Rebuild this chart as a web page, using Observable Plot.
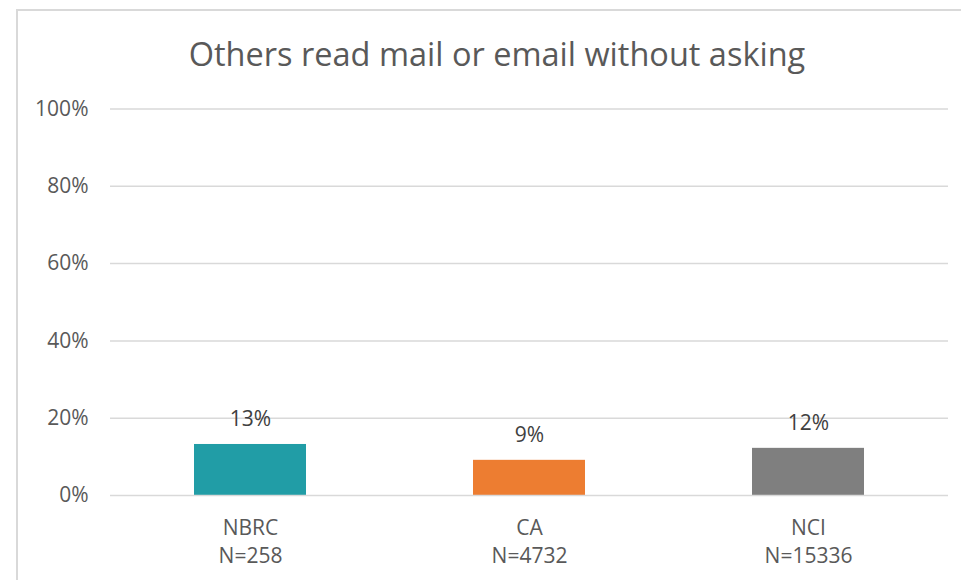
<!DOCTYPE html>
<html>
<head>
<meta charset="utf-8">
<script src="https://cdn.jsdelivr.net/npm/d3@7"></script>
<script src="https://cdn.jsdelivr.net/npm/@observablehq/plot@0.6"></script>
<style>
  html, body { margin: 0; padding: 0; background: #fff; }
  #wrap { position: relative; width: 961px; height: 580px; overflow: hidden; font-family: "Open Sans", sans-serif; }
  #title { position: absolute; left: 0; top: 38px; width: 994px; line-height: 32px; font-size: 32.5px; color: #595959; text-align: center; white-space: nowrap; }
  #chart { padding-top: 60px; }
  #frame { position: absolute; left: 16px; top: 9px; width: 980px; height: 620px; border: 2px solid #d9d9d9; pointer-events: none; z-index: 5; }
  #chart svg { background: transparent !important; }
</style>
</head>
<body>
<div id="wrap">
  <div id="title">Others read mail or email without asking</div>
  <div id="chart"></div>
  <div id="frame"></div>
</div>
<script>
const categories = ["NBRC", "CA", "NCI"];
const sampleSizes = [258, 4732, 15336];
const values = [0.132, 0.091, 0.122];
const colors = ["#219DA6", "#ED7D31", "#7F7F7F"];
const yTicks = [0, 0.2, 0.4, 0.6, 0.8, 1.0];

const data = categories.map((c, i) => ({ cat: c, n: sampleSizes[i], value: values[i], color: colors[i] }));
const nByCat = new Map(categories.map((c, i) => [c, sampleSizes[i]]));
const fmtPct = d3.format(".0%");

const plot = Plot.plot({
  width: 961,
  height: 520,
  marginLeft: 110,
  marginRight: 13,
  marginTop: 48.5,
  marginBottom: 85,
  style: { fontFamily: "Open Sans, sans-serif", fontSize: "21px", color: "#595959", background: "transparent" },
  x: { domain: categories, paddingInner: 0.6, paddingOuter: 0.3, label: null },
  y: { domain: [0, 1], label: null },
  marks: [
    Plot.ruleY(yTicks.slice(1), { stroke: "#d9d9d9", strokeWidth: 1.5 }),
    Plot.barY(data, { x: "cat", y: "value", fill: "color" }),
    Plot.ruleY([0], { stroke: "#d9d9d9", strokeWidth: 1.5 }),
    Plot.axisY({ ticks: yTicks, tickFormat: fmtPct, tickSize: 0, tickPadding: 22, label: null, fill: "#595959", fontSize: 21 }),
    Plot.axisX({ tickSize: 0, tickPadding: 20, label: null, fill: "#595959", fontSize: 21, lineHeight: 1.33,
      tickFormat: (d) => `${d}\nN=${nByCat.get(d)}` }),
    Plot.text(data, { x: "cat", y: "value", text: (d) => fmtPct(d.value), dy: -25, fill: "#404040", fontSize: 21, lineAnchor: "middle", ariaLabel: "bar-label" })
  ]
});

document.getElementById("chart").appendChild(plot);

// white label boxes behind data labels (interrupt gridlines like the original)
d3.select(plot).selectAll('g[aria-label="bar-label"] text').each(function () {
  const b = this.getBBox();
  const padX = 9, padY = 6;
  d3.select(this.parentNode).insert("rect", () => this)
    .attr("x", b.x - padX).attr("y", b.y - padY)
    .attr("width", b.width + 2 * padX).attr("height", b.height + 2 * padY)
    .attr("fill", "white")
    .attr("transform", this.getAttribute("transform"));
});
</script>
</body>
</html>
